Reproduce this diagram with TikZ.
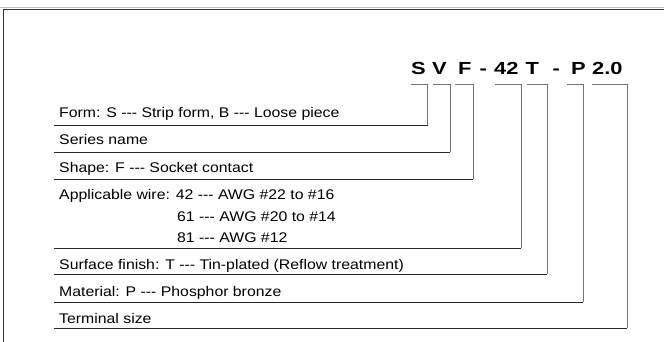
\documentclass[tikz,border=0pt]{standalone}
\usepackage{fontspec}
\setmainfont{Liberation Sans}
\newfontfamily\lblfont[FakeStretch=1.13]{Liberation Sans}
\newfontfamily\codefont[FakeStretch=1.25]{Liberation Sans}
\newcommand{\ddd}{-\kern0pt-\kern0pt-}
\begin{document}
\begin{tikzpicture}[x=1pt,y=-1pt,
  lbl/.style={anchor=base west,inner sep=0pt,font=\lblfont\fontsize{14}{16}\selectfont},
  code/.style={anchor=base west,inner sep=0pt,font=\codefont\fontsize{17.5}{20}\selectfont\bfseries},
  hline/.style={line width=0.9pt,black!85},
  vline/.style={line width=0.9pt,black!55}]
\useasboundingbox (0,0) rectangle (664,342);
% frame
\draw[line width=0.8pt,black!25] (0,7.8) -- (664,7.8);
\draw[line width=1pt,black!80] (3.5,342) -- (3.5,9.3) -- (664,9.3);
% code letters
\node[code] (cS) at (411,75) {S};
\node[code] (cV) at (432,75) {V};
\node[code] (cF) at (458,75) {F};
\node[code] (d1) at (479.5,75) {-};
\node[code] (c42) at (494,75) {42};
\node[code] (cT) at (525.5,75) {T};
\node[code] (d2) at (552.5,75) {-};
\node[code] (cP) at (571,75) {P};
\node[code] (c20) at (592,75) {2.0};
% labels
\node[lbl] (lForm) at (59,118) {Form: S \ddd{} Strip form, B \ddd{} Loose piece};
\node[lbl] (lSer) at (59,145) {Series name};
\node[lbl] (lShape) at (59,172) {Shape: F \ddd{} Socket contact};
\node[lbl] (lApp) at (59,200) {Applicable wire: 42 \ddd{} AWG \#22 to \#16};
\node[lbl] (lApp2) at (177,221) {61 \ddd{} AWG \#20 to \#14};
\node[lbl] (lApp3) at (177,242) {81 \ddd{} AWG \#12};
\node[lbl] (lSurf) at (59,269) {Surface finish: T \ddd{} Tin-plated (Reflow treatment)};
\node[lbl] (lMat) at (59,296) {Material: P \ddd{} Phosphor bronze};
\node[lbl] (lTerm) at (59,323) {Terminal size};
% coordinates
\coordinate (s1) at (54,125);   \coordinate (k1) at (427.5,125);
\coordinate (t1) at (427.5,84); \coordinate (u1) at (411,84);
\coordinate (s2) at (54,152);   \coordinate (k2) at (450,152);
\coordinate (t2) at (450,84);   \coordinate (u2) at (433,84);
\coordinate (s3) at (54,179);   \coordinate (k3) at (473,179);
\coordinate (t3) at (473,84);   \coordinate (u3) at (455,84);
\coordinate (s4) at (54,248);   \coordinate (k4) at (521,248);
\coordinate (t4) at (521,84);   \coordinate (u4) at (495,84);
\coordinate (s5) at (54,274);   \coordinate (k5) at (547,274);
\coordinate (t5) at (547,84);   \coordinate (u5) at (527,84);
\coordinate (s6) at (54,302);   \coordinate (k6) at (583,302);
\coordinate (t6) at (583,84);   \coordinate (u6) at (567,84);
\coordinate (s7) at (54,328);   \coordinate (k7) at (627,328);
\coordinate (t7) at (627,84);   \coordinate (u7) at (592,84);
% connectors
\foreach \i in {1,...,7}{
  \draw[hline] (s\i) -- (k\i);
  \draw[vline] (k\i) -- (t\i) -- (u\i);
}
\end{tikzpicture}
\end{document}
